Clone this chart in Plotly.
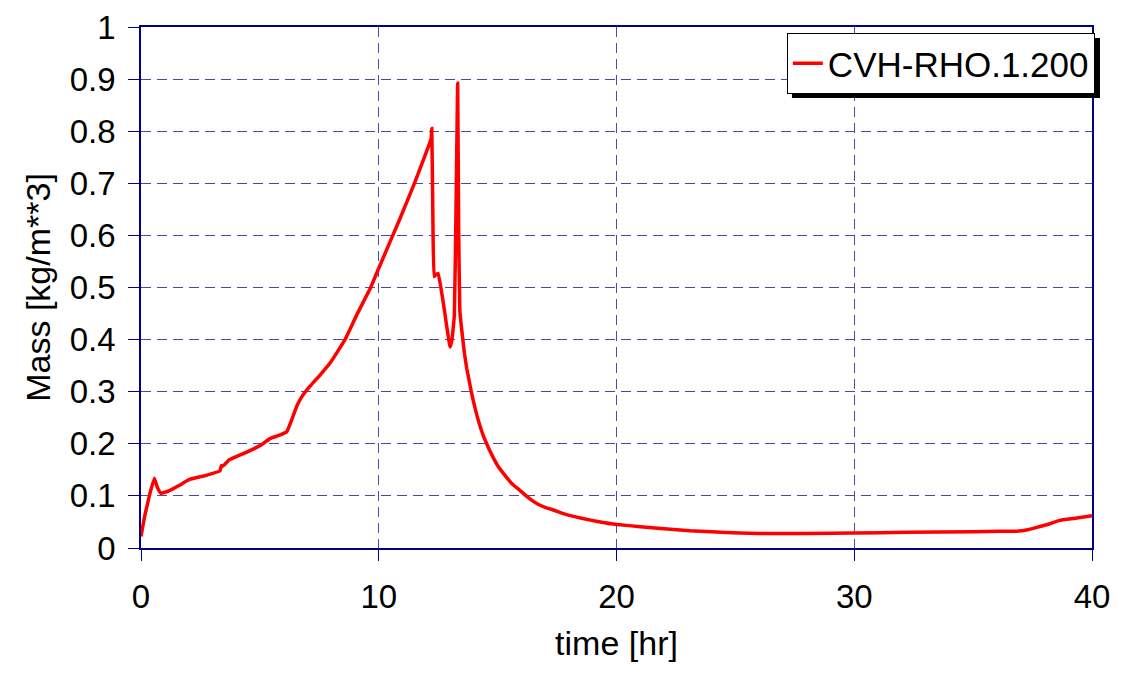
import plotly.graph_objects as go

# time [hr]
time_hr = [0, 0.15, 0.35, 0.56, 0.7, 0.84, 1.2, 1.6, 2.06, 2.7, 3.32, 3.38, 3.43, 3.6, 3.7,
           4.4, 5.07, 5.42, 5.8, 6.13, 6.34, 6.55, 6.76, 7.1, 7.53, 8.0, 8.58, 9.07, 9.66, 10.0,
           10.89, 11.5, 12.0, 12.2, 12.23, 12.28, 12.33, 12.42, 12.5, 12.75, 13.0, 13.08,
           13.18, 13.25, 13.32, 13.36, 13.41, 13.5, 13.6, 13.7, 13.8, 13.9, 14.0, 14.18,
           14.4, 14.6, 14.8, 15.03, 15.3, 15.59, 15.9, 16.15, 16.4, 16.7, 17.0, 17.41, 17.9,
           18.53, 19.2, 20.03, 21.0, 22.0, 23.09, 24.0, 25.19, 26.0, 27.99, 30.03, 32.2, 35.0,
           36.12, 36.8, 37.3, 37.64, 38.2, 38.63, 39.3, 40.0]
# CVH-RHO.1.200 [kg/m**3]
rho = [0.022, 0.06, 0.10, 0.134, 0.115, 0.105, 0.11, 0.12, 0.132, 0.139, 0.148, 0.158, 0.157,
       0.164, 0.169, 0.183, 0.198, 0.21, 0.216, 0.223, 0.246, 0.272, 0.29, 0.31, 0.332, 0.358,
       0.40, 0.447, 0.50, 0.537, 0.632, 0.70, 0.76, 0.785, 0.805, 0.62, 0.521, 0.525, 0.527,
       0.46, 0.386, 0.40, 0.447, 0.65, 0.892, 0.62, 0.455, 0.415, 0.375, 0.345, 0.322, 0.298,
       0.278, 0.246, 0.215, 0.194, 0.175, 0.156, 0.14, 0.124, 0.112, 0.102, 0.093, 0.084,
       0.078, 0.072, 0.064, 0.057, 0.051, 0.045, 0.041, 0.037, 0.033, 0.031, 0.029, 0.028,
       0.028, 0.029, 0.030, 0.031, 0.032, 0.032, 0.035, 0.039, 0.046, 0.053, 0.057, 0.062]

x_ticks = [0, 10, 20, 30, 40]
y_ticks = [0, 0.1, 0.2, 0.3, 0.4, 0.5, 0.6, 0.7, 0.8, 0.9, 1]
y_tick_labels = ["0", "0.1", "0.2", "0.3", "0.4", "0.5", "0.6", "0.7", "0.8", "0.9", "1"]

FONT = "Liberation Sans, Arial, sans-serif"
NAVY = "#000080"
GRID = "#4a4aa6"

fig = go.Figure()
fig.add_trace(go.Scatter(x=time_hr, y=rho, mode="lines", name="CVH-RHO.1.200",
                         line=dict(color="#ff0000", width=3.5, shape="spline", smoothing=0.3)))

fig.update_layout(
    width=1124, height=675,
    # page body adds an 8px offset; margins compensate so the plot area sits at 141..1092 x 27..548
    margin=dict(l=133, r=40, t=19, b=135, autoexpand=False),
    paper_bgcolor="white", plot_bgcolor="white",
    font=dict(family=FONT, size=33, color="black"),
    showlegend=True,
    legend=dict(x=1.003, xanchor="right", y=0.9885, yanchor="top",
                bgcolor="white", bordercolor="black", borderwidth=1,
                font=dict(size=35, family=FONT), itemwidth=30),
    shapes=[dict(type="rect", xref="paper", yref="paper", layer="above",
                 x0=0.6845, x1=1.0084, y0=0.8637, y1=0.979,
                 fillcolor="black", line=dict(width=0))],
)
fig.update_xaxes(range=[0, 40], tickvals=x_ticks, ticks="outside", ticklen=11,
                 tickcolor=NAVY, tickwidth=1, showline=True, linecolor=NAVY, linewidth=2,
                 mirror=True, showgrid=True, gridcolor=GRID, gridwidth=1, griddash="10px,6px",
                 zeroline=False, automargin=False, ticklabelstandoff=7,
                 title=dict(text="time [hr]", standoff=18, font=dict(size=34)))
fig.update_yaxes(range=[0, 1], tickvals=y_ticks, ticktext=y_tick_labels, ticks="outside",
                 ticklen=11, tickcolor=NAVY, tickwidth=1, showline=True, linecolor=NAVY,
                 linewidth=1.5, mirror=True, showgrid=True, gridcolor=GRID, gridwidth=1,
                 griddash="10px,6px", zeroline=False, automargin=False, ticklabelstandoff=6,
                 title=dict(text="Mass [kg/m**3]", standoff=9, font=dict(size=34)))

fig.write_html("out.html")
